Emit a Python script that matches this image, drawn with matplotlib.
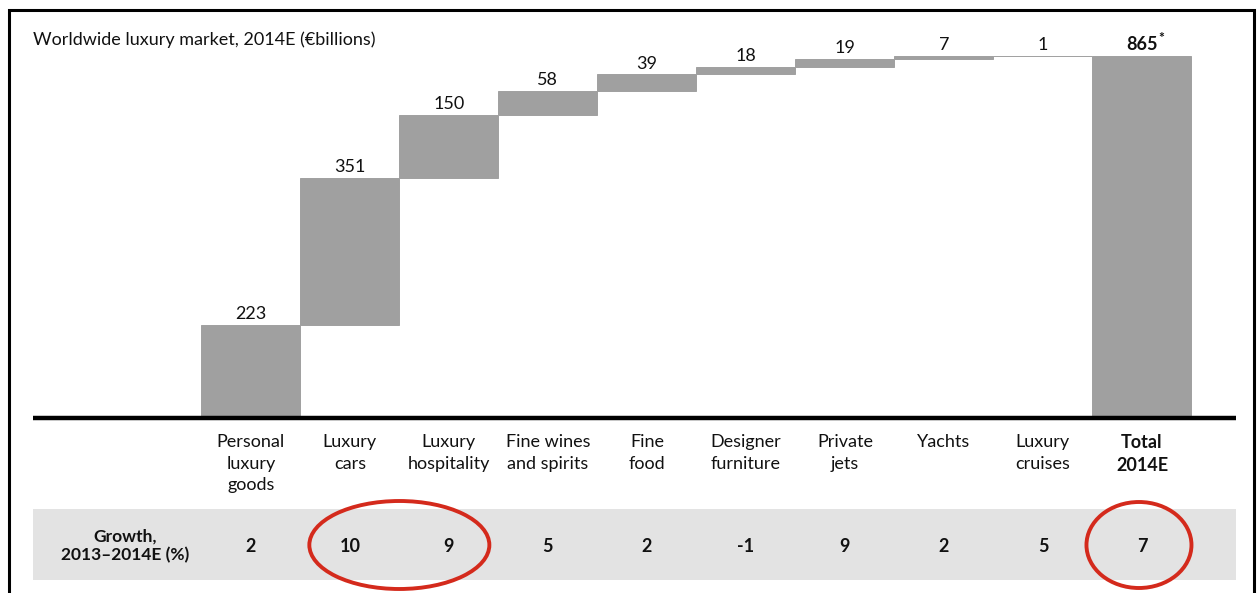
import matplotlib
matplotlib.use("Agg")
import matplotlib.pyplot as plt
from matplotlib.patches import Rectangle, Ellipse

plt.rcParams['font.family'] = ['Lato', 'DejaVu Sans']

# Data
categories = ["Personal\nluxury\ngoods", "Luxury\ncars", "Luxury\nhospitality",
              "Fine wines\nand spirits", "Fine\nfood", "Designer\nfurniture",
              "Private\njets", "Yachts", "Luxury\ncruises", "Total\n2014E"]
values = [223, 351, 150, 58, 39, 18, 19, 7, 1, 865]
value_labels = ["223", "351", "150", "58", "39", "18", "19", "7", "1", "865"]
growth = ["2", "10", "9", "5", "2", "-1", "9", "2", "5", "7"]

W, H = 1257, 593
fig = plt.figure(figsize=(W / 100, H / 100), dpi=100)

# pixel helpers
def fx(px):
    return px / W

def fy(py):
    return 1 - py / H

x_left, x_right = -2.2, 9.95
ax_l, ax_r = 33, 1236
base_y, top_y = 418, 10
px_per_unit = (base_y - 56) / values[-1]

# main waterfall axes
ax = fig.add_axes([fx(ax_l), fy(base_y), fx(ax_r - ax_l), (base_y - top_y) / H])
ax.set_xlim(x_left, x_right)
ax.set_ylim(0, (base_y - top_y) / px_per_unit)
ax.axis("off")

bar_color = "#a0a0a0"
running = 0
for i, v in enumerate(values):
    if i == len(values) - 1:
        bottom = 0
        top = v
    else:
        bottom = running
        top = running + v
        running = top
    ax.bar(i, top - bottom, bottom=bottom, width=1.0, color=bar_color,
           edgecolor=bar_color, linewidth=0.7)
    bold = (i == len(values) - 1)
    t = ax.text(i, top + 6, value_labels[i], ha="center", va="bottom", fontsize=13,
                fontweight="bold" if bold else "normal", color="#111111")
    if bold:
        # small superscript marker after the total
        ax.annotate("*", xy=(1, 1), xycoords=t, xytext=(0.5, 3), textcoords="offset points",
                    ha="left", va="top", fontsize=10, fontweight="bold", color="#111111")

ax.plot([x_left, x_right], [0, 0], color="black", linewidth=3.2, clip_on=False,
        solid_capstyle="butt")
ax.text(x_left, (base_y - 40) / px_per_unit, "Worldwide luxury market, 2014E (\u20acbillions)",
        ha="left", va="center", fontsize=13, color="#111111")

# lower table axes, y in pixel units
tb = fig.add_axes([fx(ax_l), 0, fx(ax_r - ax_l), (H - base_y - 2) / H])
tb.set_xlim(x_left, x_right)
tb.set_ylim(H, base_y + 2)
tb.axis("off")

tb.add_patch(Rectangle((x_left, 509), x_right - x_left, 71, color="#e3e3e3", linewidth=0))
for i, c in enumerate(categories):
    bold = (i == len(categories) - 1)
    tb.text(i, 434, c, ha="center", va="top", fontsize=13, linespacing=1.43,
            fontweight="bold" if bold else "normal", color="#111111")
    tb.text(i, 546, growth[i], ha="center", va="center", fontsize=13,
            fontweight="bold", color="#111111")
tb.text(-1.27, 546, "Growth,\n2013\u20132014E (%)", ha="center", va="center",
        fontsize=12.5, fontweight="bold", linespacing=1.2, color="#111111")

# red circles
tb.add_patch(Ellipse((1.5, 545), 180 / 99, 88, fill=False, edgecolor="#d42a1c",
                     linewidth=2.8, clip_on=False))
tb.add_patch(Ellipse((8.97, 545), 105 / 99, 86, fill=False, edgecolor="#d42a1c",
                     linewidth=2.8, clip_on=False))

# outer frame
fig.add_artist(Rectangle((fx(9), fy(600)), fx(1254 - 9), (600 - 10) / H, fill=False,
                         edgecolor="black", linewidth=2.2, transform=fig.transFigure))

fig.savefig("out.png", dpi=100, facecolor="white")
